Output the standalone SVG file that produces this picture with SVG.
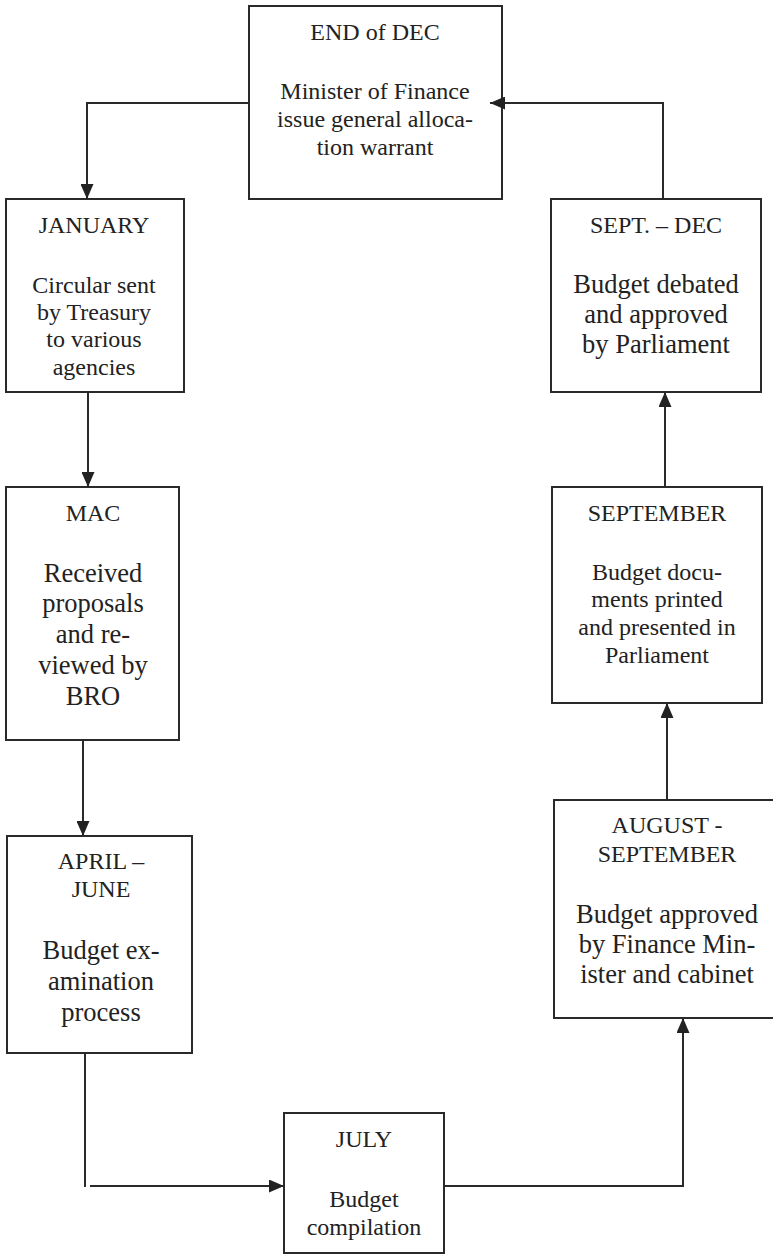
<svg xmlns="http://www.w3.org/2000/svg" width="773" height="1257" viewBox="0 0 773 1257">
<defs>
<style>
.box{fill:#fff;stroke:#2a2a2a;stroke-width:2}
.t{font-family:"Liberation Serif","Times New Roman",serif;fill:#222;text-anchor:middle;font-size:24px}
.b{font-size:26.5px}
.c{fill:none;stroke:#2a2a2a;stroke-width:2}
</style>
<marker id="ah" markerUnits="userSpaceOnUse" markerWidth="15" markerHeight="13" refX="15" refY="6.5" orient="auto">
<path d="M0,0 L15,6.5 L0,13 z" fill="#222"/>
</marker>
</defs>
<rect width="773" height="1257" fill="#fff"/>
<g id="end-of-dec">
<rect class="box" x="249" y="6" width="253" height="193"/>
<text class="t" x="375" y="40">END of DEC</text>
<text class="t" x="375" y="99">Minister of Finance</text>
<text class="t" x="375" y="127">issue general alloca-</text>
<text class="t" x="375" y="155">tion warrant</text>
</g>
<g id="january">
<rect class="box" x="6" y="199" width="178" height="193"/>
<text class="t" x="94" y="233">JANUARY</text>
<text class="t" x="94" y="293">Circular sent</text>
<text class="t" x="94" y="320">by Treasury</text>
<text class="t" x="94" y="347">to various</text>
<text class="t" x="94" y="375">agencies</text>
</g>
<g id="sept-dec">
<rect class="box" x="551" y="199" width="210" height="193"/>
<text class="t" x="656" y="233">SEPT. – DEC</text>
<text class="t b" x="656" y="293">Budget debated</text>
<text class="t b" x="656" y="323">and approved</text>
<text class="t b" x="656" y="353">by Parliament</text>
</g>
<g id="mac">
<rect class="box" x="6" y="487" width="173" height="253"/>
<text class="t" x="93" y="521">MAC</text>
<text class="t b" x="93" y="582">Received</text>
<text class="t b" x="93" y="612">proposals</text>
<text class="t b" x="93" y="643">and re-</text>
<text class="t b" x="93" y="674">viewed by</text>
<text class="t b" x="93" y="705">BRO</text>
</g>
<g id="september">
<rect class="box" x="552" y="487" width="210" height="216"/>
<text class="t" x="657" y="521">SEPTEMBER</text>
<text class="t" x="657" y="580">Budget docu-</text>
<text class="t" x="657" y="607">ments printed</text>
<text class="t" x="657" y="635">and presented in</text>
<text class="t" x="657" y="663">Parliament</text>
</g>
<g id="april-june">
<rect class="box" x="7" y="836" width="185" height="217"/>
<text class="t" x="101" y="869">APRIL –</text>
<text class="t" x="101" y="897">JUNE</text>
<text class="t b" x="101" y="959">Budget ex-</text>
<text class="t b" x="101" y="990">amination</text>
<text class="t b" x="101" y="1021">process</text>
</g>
<g id="august-september">
<rect class="box" x="554" y="800" width="226" height="218"/>
<text class="t" x="667" y="833">AUGUST -</text>
<text class="t" x="667" y="862">SEPTEMBER</text>
<text class="t b" x="667" y="923">Budget approved</text>
<text class="t b" x="667" y="953">by Finance Min-</text>
<text class="t b" x="667" y="983">ister and cabinet</text>
</g>
<g id="july">
<rect class="box" x="284" y="1113" width="160" height="140"/>
<text class="t" x="364" y="1147">JULY</text>
<text class="t" x="364" y="1207">Budget</text>
<text class="t" x="364" y="1235">compilation</text>
</g>
<g id="connectors">
<path class="c" d="M249,103 H87 V199" marker-end="url(#ah)"/>
<path class="c" d="M88,392 V487" marker-end="url(#ah)"/>
<path class="c" d="M83,740 V836" marker-end="url(#ah)"/>
<path class="c" d="M85,1053 V1187"/>
<path class="c" d="M90,1186 H284" marker-end="url(#ah)"/>
<path class="c" d="M444,1186 H683 V1018" marker-end="url(#ah)"/>
<path class="c" d="M667,800 V703" marker-end="url(#ah)"/>
<path class="c" d="M665,487 V392" marker-end="url(#ah)"/>
<path class="c" d="M663,199 V103 H490" marker-end="url(#ah)"/>
</g>
</svg>
